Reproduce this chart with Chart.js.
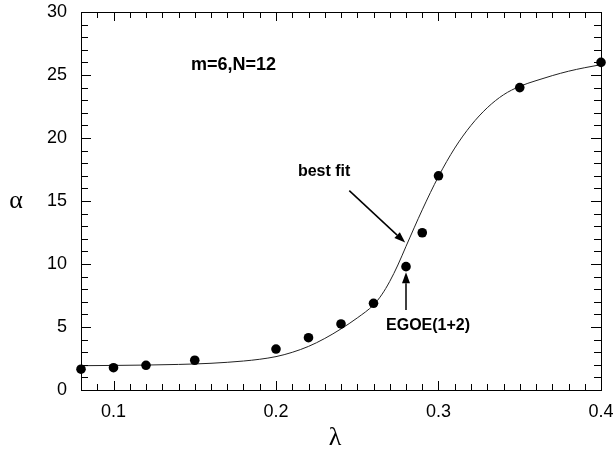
<!DOCTYPE html>
<html>
<head>
<meta charset="utf-8">
<script src="https://cdn.jsdelivr.net/npm/chart.js@4/dist/chart.umd.min.js"></script>
<style>
  body { margin: 0; background: #fff; }
  canvas { display: block; }
</style>
</head>
<body>
<canvas id="alphaChart" width="615" height="457"></canvas>
<script>
// measured points (EGOE)
const lambdaPts = [0.08, 0.10, 0.12, 0.15, 0.20, 0.22, 0.24, 0.26, 0.28, 0.29, 0.30, 0.35, 0.40];
const alphaPts = [1.65, 1.77, 1.96, 2.36, 3.25, 4.15, 5.24, 6.88, 9.79, 12.48, 17.0, 24.0, 26.0];

// best fit curve
const fitLambda = [0.08, 0.10, 0.12, 0.14, 0.16, 0.18, 0.19, 0.20, 0.21, 0.22, 0.23, 0.24, 0.25, 0.26, 0.265, 0.27, 0.275, 0.28, 0.29, 0.30, 0.31, 0.32, 0.33, 0.34, 0.35, 0.36, 0.37, 0.38, 0.39, 0.40];
const fitAlpha = [1.93, 1.95, 1.98, 2.03, 2.12, 2.30, 2.44, 2.65, 2.99, 3.46, 4.09, 4.85, 5.72, 6.75, 7.55, 8.62, 9.92, 11.4, 14.3, 16.95, 19.2, 21.0, 22.4, 23.43, 24.1, 24.55, 24.95, 25.3, 25.58, 25.82];

const xTickLabels = [0.1, 0.2, 0.3, 0.4];

const tickFont = { family: "'Liberation Sans', Arial, sans-serif", size: 18 };

// inward ticks + frame
const framePlugin = {
  id: "frame",
  afterDraw(chart) {
    const ctx = chart.ctx;
    const { left, right, top, bottom } = chart.chartArea;
    const xs = chart.scales.x;
    const ys = chart.scales.y;
    ctx.save();
    ctx.strokeStyle = "#000";
    ctx.lineWidth = 1;
    ctx.strokeRect(Math.round(left) + 0.5, Math.round(top) + 0.5, Math.round(right - left), Math.round(bottom - top));
    ctx.beginPath();
    for (let i = 8; i <= 40; i++) {
      const px = Math.round(xs.getPixelForValue(i / 100)) + 0.5;
      const len = i % 10 === 0 ? 9 : 6;
      ctx.moveTo(px, bottom);
      ctx.lineTo(px, bottom - len);
      ctx.moveTo(px, top);
      ctx.lineTo(px, top + len);
    }
    for (let j = 0; j <= 30; j++) {
      const py = Math.round(ys.getPixelForValue(j)) + 0.5;
      const len = j % 5 === 0 ? 10 : 7;
      ctx.moveTo(left, py);
      ctx.lineTo(left + len, py);
      ctx.moveTo(right, py);
      ctx.lineTo(right - len, py);
    }
    ctx.stroke();
    ctx.restore();
  },
};

function drawArrow(ctx, x1, y1, x2, y2) {
  const ang = Math.atan2(y2 - y1, x2 - x1);
  const head = 11;
  const wing = 4;
  ctx.beginPath();
  ctx.moveTo(x1, y1);
  ctx.lineTo(x2 - head * Math.cos(ang), y2 - head * Math.sin(ang));
  ctx.lineWidth = 1.5;
  ctx.stroke();
  ctx.beginPath();
  ctx.moveTo(x2, y2);
  ctx.lineTo(x2 - head * Math.cos(ang) + wing * Math.sin(ang), y2 - head * Math.sin(ang) - wing * Math.cos(ang));
  ctx.lineTo(x2 - head * Math.cos(ang) - wing * Math.sin(ang), y2 - head * Math.sin(ang) + wing * Math.cos(ang));
  ctx.closePath();
  ctx.fill();
}

// labels and arrows, placed in data coordinates
const notesPlugin = {
  id: "notes",
  afterDraw(chart) {
    const ctx = chart.ctx;
    const xs = chart.scales.x;
    const ys = chart.scales.y;
    const X = (v) => xs.getPixelForValue(v);
    const Y = (v) => ys.getPixelForValue(v);
    ctx.save();
    ctx.fillStyle = "#000";
    ctx.strokeStyle = "#000";
    ctx.textBaseline = "alphabetic";
    ctx.textAlign = "left";
    ctx.font = "bold 18px 'Liberation Sans', Arial, sans-serif";
    ctx.fillText("m=6,N=12", X(0.1477), Y(25.4));
    ctx.font = "bold 16px 'Liberation Sans', Arial, sans-serif";
    ctx.fillText("best fit", X(0.2135), Y(16.95));
    ctx.fillText("EGOE(1+2)", X(0.2677), Y(4.75));
    drawArrow(ctx, X(0.2451), Y(15.82), X(0.2795), Y(11.7));
    drawArrow(ctx, X(0.28), Y(6.35), X(0.28), Y(9.35));

    // axis titles
    ctx.font = "26px 'Liberation Serif', 'DejaVu Serif', serif";
    ctx.textAlign = "center";
    ctx.textBaseline = "middle";
    ctx.fillText("λ", 335, 438);
    ctx.fillText("α", 16, 201);
    ctx.restore();
  },
};

const ctx = document.getElementById("alphaChart").getContext("2d");
new Chart(ctx, {
  type: "scatter",
  data: {
    datasets: [
      {
        label: "EGOE(1+2)",
        data: lambdaPts.map((l, i) => ({ x: l, y: alphaPts[i] })),
        pointRadius: 4.8,
        pointBackgroundColor: "#000",
        pointBorderWidth: 0,
        showLine: false,
        clip: false,
        order: 1,
      },
      {
        label: "best fit",
        data: fitLambda.map((l, i) => ({ x: l, y: fitAlpha[i] })),
        showLine: true,
        pointRadius: 0,
        borderColor: "#222",
        borderWidth: 1,
        cubicInterpolationMode: "monotone",
        order: 2,
      },
    ],
  },
  options: {
    responsive: false,
    animation: false,
    layout: { padding: { top: 12, right: 14, left: 0, bottom: 0 } },
    plugins: {
      legend: { display: false },
      tooltip: { enabled: false },
    },
    scales: {
      x: {
        type: "linear",
        min: 0.08,
        max: 0.4,
        afterFit(scale) {
          scale.height = 67;
          scale.paddingLeft = 0;
          scale.paddingRight = 0;
        },
        afterBuildTicks(scale) {
          scale.ticks = xTickLabels.map((v) => ({ value: v }));
        },
        grid: { display: false, drawTicks: false },
        border: { display: false },
        ticks: {
          font: tickFont,
          color: "#000",
          padding: 11,
          autoSkip: false,
          maxRotation: 0,
          callback: (v) => v.toFixed(1),
        },
      },
      y: {
        min: 0,
        max: 30,
        afterFit(scale) {
          scale.width = 81;
          scale.paddingTop = 0;
          scale.paddingBottom = 0;
        },
        grid: { display: false, drawTicks: false },
        border: { display: false },
        ticks: {
          font: tickFont,
          color: "#000",
          padding: 14,
          stepSize: 5,
        },
      },
    },
  },
  plugins: [framePlugin, notesPlugin],
});
</script>
</body>
</html>
